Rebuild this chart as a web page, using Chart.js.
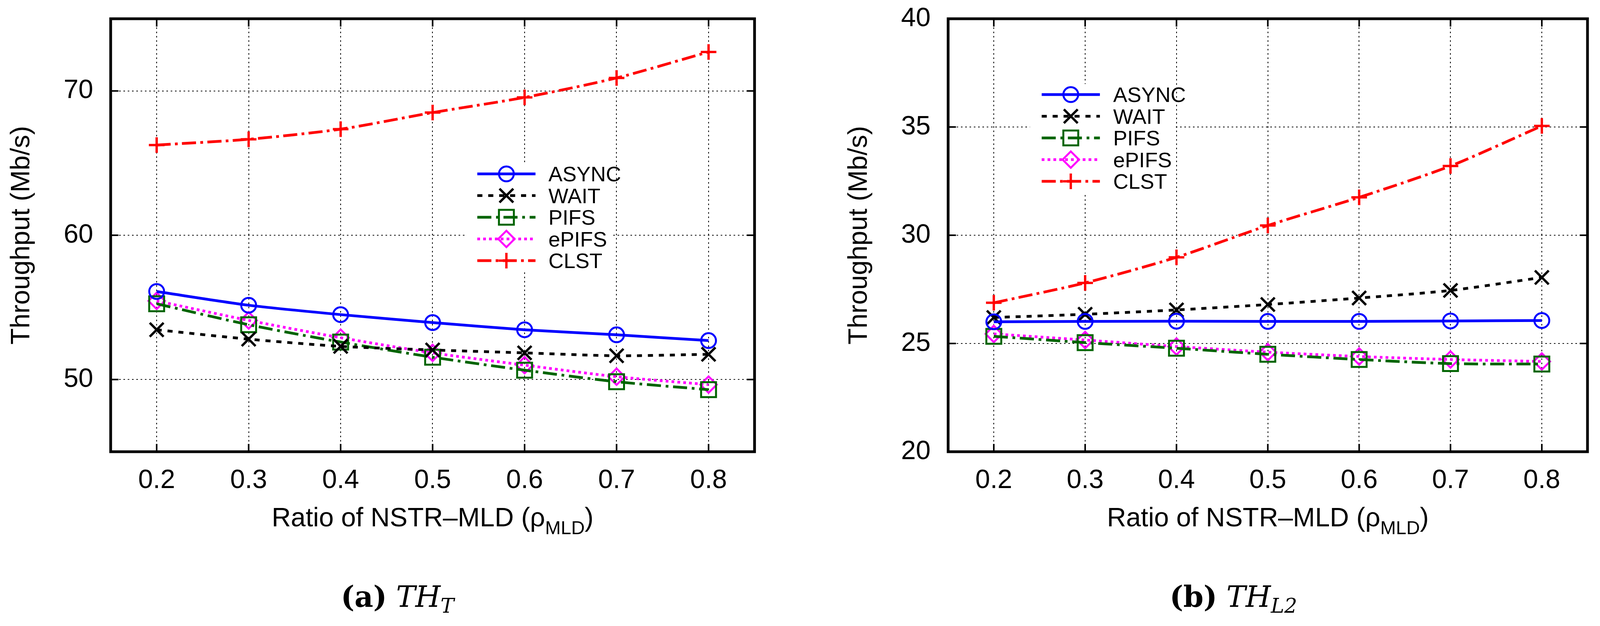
<!DOCTYPE html>
<html>
<head>
<meta charset="utf-8">
<title>Throughput vs ratio of NSTR-MLD</title>
<script src="https://cdn.jsdelivr.net/npm/chart.js@4.4.1/dist/chart.umd.min.js"></script>
<style>
  html, body { margin: 0; padding: 0; background: #fff; overflow: hidden; }
  #page { position: relative; height: 1602px; overflow: hidden; background: #fff; }
  canvas { position: absolute; top: 0; }
  .caption {
    position: absolute; top: 1490px; width: 700px; text-align: center;
    font-family: 'DejaVu Serif', 'Liberation Serif', serif; font-size: 74px;
    line-height: 74px; white-space: nowrap; color: #000;
  }
  .caption .sub { font-size: 0.7em; position: relative; top: 0.28em; }
</style>
</head>
<body>
<div id="page">
  <canvas id="chartT"></canvas>
  <canvas id="chartL2"></canvas>
  <div class="caption" id="capT"><b>(a)</b> <i>TH<span class="sub">T</span></i></div>
  <div class="caption" id="capL2"><b>(b)</b> <i>TH<span class="sub">L2</span></i></div>
</div>
<script>
// x positions and tick labels
const ratios = [0.2, 0.3, 0.4, 0.5, 0.6, 0.7, 0.8];
const xTicks = [0.2, 0.3, 0.4, 0.5, 0.6, 0.7, 0.8];
const seriesNames = ['ASYNC', 'WAIT', 'PIFS', 'ePIFS', 'CLST'];

// (a) TH_T, Mb/s
const asyncT = [56.1, 55.15, 54.5, 53.95, 53.45, 53.1, 52.7];
const waitT  = [53.45, 52.8, 52.3, 52.05, 51.85, 51.65, 51.75];
const pifsT  = [55.25, 53.8, 52.6, 51.55, 50.65, 49.85, 49.3];
const epifsT = [55.45, 54.1, 52.9, 51.85, 51.0, 50.2, 49.65];
const clstT  = [66.25, 66.65, 67.35, 68.5, 69.55, 70.9, 72.7];
const yTicksT = [50, 60, 70];

// (b) TH_L2, Mb/s
const asyncL2 = [26.0, 26.02, 26.03, 26.02, 26.02, 26.04, 26.06];
const waitL2  = [26.2, 26.35, 26.55, 26.8, 27.1, 27.45, 28.05];
const pifsL2  = [25.33, 25.04, 24.78, 24.5, 24.26, 24.07, 24.05];
const epifsL2 = [25.44, 25.16, 24.86, 24.6, 24.4, 24.26, 24.17];
const clstL2  = [26.88, 27.8, 28.98, 30.45, 31.75, 33.2, 35.05];
const yTicksL2 = [20, 25, 30, 35, 40];

// gnuplot-like line/marker styles
const seriesStyles = [
  { color: '#0000ff', dash: [],              pointStyle: 'circle',   radius: 19, pointWidth: 5 },
  { color: '#000000', dash: [13, 15],        pointStyle: 'crossRot', radius: 25, pointWidth: 6 },
  { color: '#006400', dash: [36, 12, 7, 12], pointStyle: 'rect',     radius: 27, pointWidth: 5 },
  { color: '#ff00ff', dash: [7, 8],          pointStyle: 'rectRot',  radius: 21, pointWidth: 5 },
  { color: '#ff0000', dash: [36, 11, 7, 11], pointStyle: 'cross',    radius: 20, pointWidth: 6 }
];

// the layout was measured on a 4207 px wide figure; squeeze it horizontally if the window is narrower
const FULL_W = 4207;
const pageW = Math.min(window.innerWidth || FULL_W, FULL_W);
const SX = pageW / FULL_W;
const sx = v => v * SX;

const SANS = "'Liberation Sans', Arial, Helvetica, sans-serif";
Chart.defaults.font.family = SANS;
Chart.defaults.color = '#000';

function drawMarker(ctx, style, x, y, r) {
  ctx.beginPath();
  if (style === 'circle') {
    ctx.arc(x, y, r, 0, Math.PI * 2);
  } else if (style === 'rect') {
    const s = r * Math.SQRT1_2;
    ctx.rect(x - s, y - s, 2 * s, 2 * s);
  } else if (style === 'rectRot') {
    ctx.moveTo(x - r, y); ctx.lineTo(x, y - r); ctx.lineTo(x + r, y); ctx.lineTo(x, y + r); ctx.closePath();
  } else if (style === 'cross') {
    ctx.moveTo(x - r, y); ctx.lineTo(x + r, y); ctx.moveTo(x, y - r); ctx.lineTo(x, y + r);
  } else if (style === 'crossRot') {
    const o = r * Math.SQRT1_2;
    ctx.moveTo(x - o, y - o); ctx.lineTo(x + o, y + o); ctx.moveTo(x + o, y - o); ctx.lineTo(x - o, y + o);
  }
  ctx.stroke();
}

// frame, inner ticks, key and x axis title drawn over the plot
const gnuplotDecor = {
  id: 'gnuplotDecor',
  afterDraw(chart, args, opts) {
    const ctx = chart.ctx;
    const a = chart.chartArea;
    const xs = chart.scales.x, ys = chart.scales.y;
    ctx.save();
    ctx.setLineDash([]);

    // key with white background
    const k = opts.key;
    ctx.fillStyle = '#fff';
    ctx.fillRect(k.boxX, k.boxY, k.boxW, k.boxH);
    chart.data.datasets.forEach((ds, i) => {
      const st = seriesStyles[i];
      const y = k.rowY + i * k.rowStep;
      ctx.strokeStyle = st.color;
      ctx.lineWidth = ds.borderWidth;
      ctx.setLineDash(st.dash);
      ctx.beginPath();
      ctx.moveTo(k.lineX0, y);
      ctx.lineTo(k.lineX1, y);
      ctx.stroke();
      ctx.setLineDash([]);
      ctx.lineWidth = st.pointWidth;
      drawMarker(ctx, st.pointStyle, (k.lineX0 + k.lineX1) / 2, y, st.radius);
      ctx.fillStyle = '#000';
      ctx.font = '54px ' + SANS;
      ctx.textAlign = 'left';
      ctx.textBaseline = 'alphabetic';
      ctx.fillText(ds.label, k.textX, y + 19);
    });

    // inner tick marks on all four sides
    ctx.strokeStyle = '#000';
    ctx.lineWidth = 4;
    ctx.beginPath();
    xs.ticks.forEach(t => {
      const px = xs.getPixelForValue(t.value);
      ctx.moveTo(px, a.bottom); ctx.lineTo(px, a.bottom - 20);
      ctx.moveTo(px, a.top); ctx.lineTo(px, a.top + 20);
    });
    ys.ticks.forEach(t => {
      const py = ys.getPixelForValue(t.value);
      ctx.moveTo(a.left, py); ctx.lineTo(a.left + 20, py);
      ctx.moveTo(a.right, py); ctx.lineTo(a.right - 20, py);
    });
    ctx.stroke();

    // border
    ctx.lineWidth = 7;
    ctx.strokeRect(a.left, a.top, a.right - a.left, a.bottom - a.top);

    // x axis title with subscript
    const mainFont = '68px ' + SANS, subFont = '48px ' + SANS;
    const part1 = 'Ratio of NSTR\u2013MLD (\u03c1', sub = 'MLD', part2 = ')';
    ctx.fillStyle = '#000';
    ctx.textAlign = 'left';
    ctx.textBaseline = 'alphabetic';
    ctx.font = mainFont; const w1 = ctx.measureText(part1).width, w3 = ctx.measureText(part2).width;
    ctx.font = subFont; const w2 = ctx.measureText(sub).width;
    let x = (a.left + a.right) / 2 - (w1 + w2 + w3) / 2;
    const base = 1347;
    ctx.font = mainFont; ctx.fillText(part1, x, base); x += w1;
    ctx.font = subFont; ctx.fillText(sub, x, base + 20); x += w2;
    ctx.font = mainFont; ctx.fillText(part2, x, base);
    ctx.restore();
  }
};

function makeChart(canvasId, left, width, values, yMin, yMax, yTicks, padding, key) {
  const canvas = document.getElementById(canvasId);
  canvas.width = width;
  canvas.height = 1602;
  canvas.style.left = left + 'px';

  const datasets = values.map((vals, i) => {
    const st = seriesStyles[i];
    return {
      label: seriesNames[i],
      data: ratios.map((r, j) => ({ x: r, y: vals[j] })),
      borderColor: st.color,
      borderWidth: 7,
      borderDash: st.dash,
      tension: 0.25,
      fill: false,
      pointStyle: st.pointStyle,
      pointRadius: st.radius,
      pointHoverRadius: st.radius,
      pointBorderWidth: st.pointWidth,
      pointBorderColor: st.color,
      pointBackgroundColor: 'rgba(0,0,0,0)'
    };
  });

  return new Chart(canvas.getContext('2d'), {
    type: 'line',
    data: { datasets: datasets },
    plugins: [gnuplotDecor],
    options: {
      responsive: false,
      devicePixelRatio: 1,
      animation: false,
      layout: { padding: padding },
      plugins: {
        legend: { display: false },
        tooltip: { enabled: false },
        gnuplotDecor: { key: key }
      },
      scales: {
        x: {
          type: 'linear',
          min: 0.15,
          max: 0.85,
          afterBuildTicks: scale => { scale.ticks = xTicks.map(v => ({ value: v })); },
          afterFit: scale => { scale.height = 150; scale.paddingLeft = 0; scale.paddingRight = 0; },
          ticks: {
            font: { size: 68 },
            padding: 33,
            maxRotation: 0,
            callback: v => v.toFixed(1)
          },
          grid: { color: '#000', lineWidth: 2, drawTicks: false },
          border: { display: false, dash: [4, 7] }
        },
        y: {
          min: yMin,
          max: yMax,
          afterBuildTicks: scale => { scale.ticks = yTicks.map(v => ({ value: v })); },
          afterFit: scale => { scale.width = sx(291); scale.paddingTop = 0; scale.paddingBottom = 0; },
          ticks: { font: { size: 68 }, padding: sx(46) },
          grid: { color: '#000', lineWidth: 2, drawTicks: false },
          border: { display: false, dash: [4, 7] },
          title: {
            display: true,
            text: 'Throughput (Mb/s)',
            font: { size: 68 },
            padding: { top: sx(16), bottom: 0 }
          }
        }
      }
    }
  });
}

document.getElementById('page').style.width = pageW + 'px';
const leftW = Math.round(sx(2100));
const rightW = pageW - leftW;

makeChart('chartT', 0, leftW, [asyncT, waitT, pifsT, epifsT, clstT], 45, 75, yTicksT,
  { left: 0, right: leftW - sx(1984), top: 48, bottom: 296 },
  { boxX: sx(1223), boxY: 417, boxW: sx(384), boxH: 278,
    lineX0: sx(1255), lineX1: sx(1408), textX: sx(1442), rowY: 445, rowStep: 55.5 });

makeChart('chartL2', leftW, rightW, [asyncL2, waitL2, pifsL2, epifsL2, clstL2], 20, 40, yTicksL2,
  { left: sx(2493) - leftW - sx(291), right: pageW - sx(4188), top: 48, bottom: 296 },
  { boxX: sx(2708) - leftW, boxY: 215, boxW: sx(384), boxH: 278,
    lineX0: sx(2739) - leftW, lineX1: sx(2892) - leftW, textX: sx(2927) - leftW, rowY: 242, rowStep: 55.5 });

// captions centred under each panel
const capT = document.getElementById('capT'), capL2 = document.getElementById('capL2');
capT.style.left = (sx(1045) - 350) + 'px';
capL2.style.left = (sx(3243) - 350) + 'px';
</script>
</body>
</html>
